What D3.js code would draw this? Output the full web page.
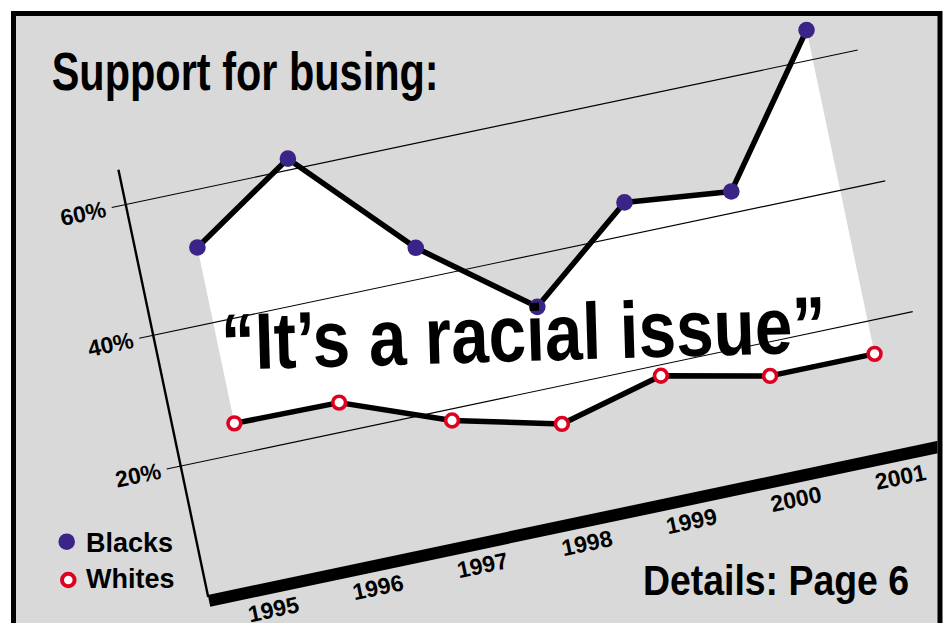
<!DOCTYPE html>
<html>
<head>
<meta charset="utf-8">
<script src="https://cdn.jsdelivr.net/npm/d3@7"></script>
<style>
  body { margin: 0; background: #fff; }
  svg { display: block; }
</style>
</head>
<body>
<svg id="chart"></svg>
<script>
// values
const years = [1995, 1996, 1997, 1998, 1999, 2000, 2001];
const blacks = [51.5, 61.7, 44.7, 32.3, 44.9, 43.2, 64.5];
const whites = [24.6, 24.4, 18.3, 14.4, 18.4, 15.0, 15.0];
const yTicks = [20, 40, 60];
const yTickLabels = ['20%', '40%', '60%'];
const seriesNames = ['Blacks', 'Whites'];

const W = 943, H = 623;
const svg = d3.select('#chart').attr('width', W).attr('height', H);

// the whole plot sits on a sheared plane
const origin = [194.2, 599.85];
const slope = -0.211;   // how much x axis climbs
const lean = 0.2102;    // how much y axis leans
const angle = Math.atan(slope) * 180 / Math.PI;
const project = (u, w) => [origin[0] + u + lean * w, origin[1] + slope * u + w];

const xScale = d3.scalePoint().domain(years).range([74, 701]);
const yScale = d3.scaleLinear().domain([0, 60]).range([0, -392.4]);

const sans = '"Liberation Sans", Arial, Helvetica, sans-serif';

// frame
svg.append('defs').append('clipPath').attr('id', 'inside')
  .append('rect').attr('x', 16).attr('y', 16).attr('width', 921.5).attr('height', 700);

svg.append('rect')
  .attr('x', 13.5).attr('y', 13.5).attr('width', 926.5).attr('height', 700)
  .attr('fill', '#d9d9d9');

const plot = svg.append('g').attr('clip-path', 'url(#inside)');

const line = d3.line();
const closed = d3.line().curve(d3.curveLinearClosed);

// white panel between the two series
const topPts = years.map((yr, i) => project(xScale(yr), yScale(blacks[i])));
const botPts = years.map((yr, i) => project(xScale(yr), yScale(whites[i])));
plot.append('path')
  .attr('d', closed(topPts.concat(botPts.slice().reverse())))
  .attr('fill', '#fff');

// grid lines
plot.selectAll('.grid')
  .data(yTicks)
  .enter()
  .append('path')
  .attr('class', 'grid')
  .attr('d', t => line([project(0, yScale(t)), project(746, yScale(t))]))
  .attr('stroke', '#000')
  .attr('stroke-width', 1.1)
  .attr('fill', 'none');

// y axis
plot.append('path')
  .attr('d', line([project(14, yScale(0)), project(14, yScale(65.3))]))
  .attr('stroke', '#000')
  .attr('stroke-width', 2.4);

// thick x axis
const x0 = 14, x1 = 900;
plot.append('path')
  .attr('d', closed([
    project(x0, yScale(0) - 2), project(x1, yScale(0) - 2),
    project(x1, yScale(0) + 9.8), project(x0, yScale(0) + 9.8)
  ]))
  .attr('fill', '#000');

// y tick labels
plot.selectAll('.ylab')
  .data(yTicks)
  .enter()
  .append('text')
  .attr('class', 'ylab')
  .attr('transform', t => {
    const p = project(-6, yScale(t));
    return `translate(${p[0]},${p[1]}) rotate(${angle})`;
  })
  .attr('text-anchor', 'end')
  .attr('dy', '0.35em')
  .style('font-family', sans)
  .style('font-weight', 'bold')
  .style('font-size', '23px')
  .text((t, i) => yTickLabels[i]);

// year labels
plot.selectAll('.xlab')
  .data(years)
  .enter()
  .append('text')
  .attr('class', 'xlab')
  .attr('transform', yr => {
    const p = project(xScale(yr), 25);
    return `translate(${p[0]},${p[1]}) rotate(${angle})`;
  })
  .attr('text-anchor', 'middle')
  .attr('dy', '0.35em')
  .style('font-family', sans)
  .style('font-weight', 'bold')
  .style('font-size', '23px')
  .text(yr => yr);

// series lines
[topPts, botPts].forEach(pts => {
  plot.append('path')
    .attr('d', line(pts))
    .attr('fill', 'none')
    .attr('stroke', '#000')
    .attr('stroke-width', 5.5)
    .attr('stroke-linejoin', 'round');
});

// the quote
svg.append('text')
  .attr('transform', 'translate(222,370) rotate(-1.7)')
  .attr('textLength', 605)
  .attr('lengthAdjust', 'spacingAndGlyphs')
  .style('font-family', sans)
  .style('font-weight', 'bold')
  .style('font-size', '80px')
  .text('\u201CIt\u2019s a racial issue\u201D');

// markers
plot.selectAll('.bdot')
  .data(topPts)
  .enter()
  .append('circle')
  .attr('class', 'bdot')
  .attr('cx', d => d[0]).attr('cy', d => d[1])
  .attr('r', 8.3)
  .attr('fill', '#3b2487');

plot.selectAll('.wdot')
  .data(botPts)
  .enter()
  .append('circle')
  .attr('class', 'wdot')
  .attr('cx', d => d[0]).attr('cy', d => d[1])
  .attr('r', 6.4)
  .attr('fill', '#fff')
  .attr('stroke', '#dc0021')
  .attr('stroke-width', 3.6);

// title
svg.append('text')
  .attr('x', 51.7).attr('y', 90)
  .attr('textLength', 387)
  .attr('lengthAdjust', 'spacingAndGlyphs')
  .style('font-family', sans)
  .style('font-weight', 'bold')
  .style('font-size', '53px')
  .text('Support for busing:');

svg.append('text')
  .attr('x', 643).attr('y', 595)
  .attr('textLength', 266)
  .attr('lengthAdjust', 'spacingAndGlyphs')
  .style('font-family', sans)
  .style('font-weight', 'bold')
  .style('font-size', '42px')
  .text('Details: Page 6');

// legend
const legend = svg.append('g');
legend.append('circle').attr('cx', 66.7).attr('cy', 541.7).attr('r', 8.3).attr('fill', '#3b2487');
legend.append('circle').attr('cx', 68.3).attr('cy', 580).attr('r', 6.3)
  .attr('fill', '#fff').attr('stroke', '#dc0021').attr('stroke-width', 4);
legend.selectAll('text')
  .data(seriesNames)
  .enter()
  .append('text')
  .attr('x', 86)
  .attr('y', (d, i) => i === 0 ? 551.7 : 588.3)
  .style('font-family', sans)
  .style('font-weight', 'bold')
  .style('font-size', '27px')
  .text(d => d);

// border on top
svg.append('rect')
  .attr('x', 13.5).attr('y', 13.5).attr('width', 926.5).attr('height', 700)
  .attr('fill', 'none')
  .attr('stroke', '#000')
  .attr('stroke-width', 5);
</script>
</body>
</html>
